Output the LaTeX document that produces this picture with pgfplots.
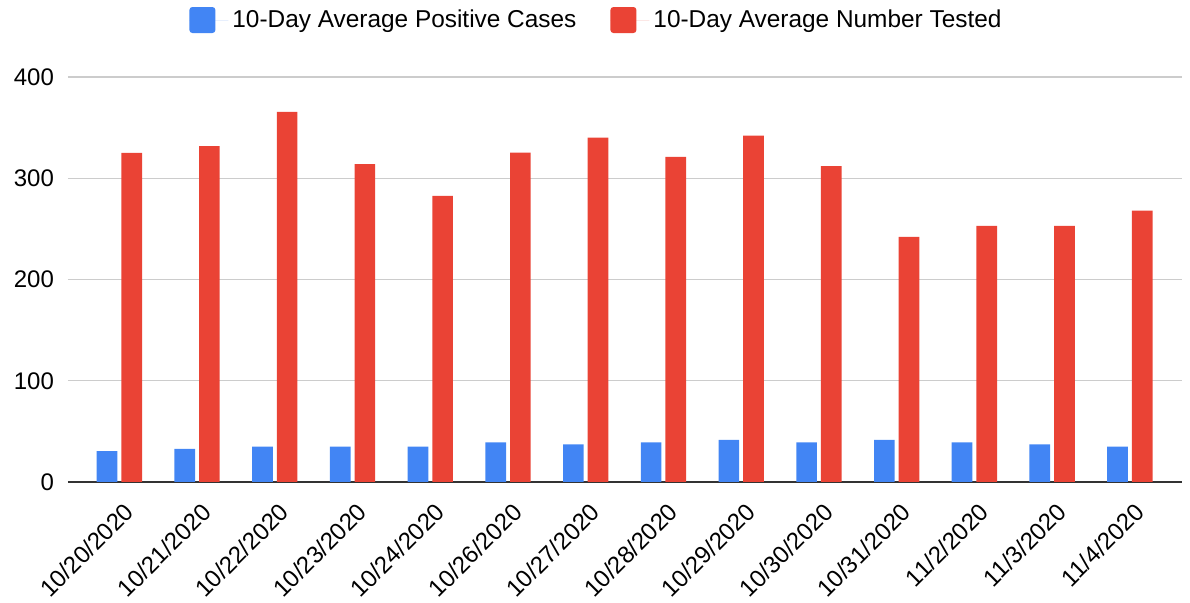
\documentclass[border=0pt]{standalone}
\usepackage{fontspec}
\setmainfont{Liberation Sans}
\usepackage{pgfplots}
\pgfplotsset{compat=1.18}
\definecolor{gblue}{HTML}{4285F4}
\definecolor{gred}{HTML}{EA4335}
\definecolor{ggrid}{HTML}{CCCCCC}
\definecolor{gaxis}{HTML}{333333}
\begin{document}
\begin{tikzpicture}
\begin{axis}[
  at={(0,0)}, anchor=south west,
  scale only axis,
  width=557pt, height=202.5pt,
  ybar=2pt, bar width=10.35pt,
  xmin=-0.66, xmax=13.67,
  ymin=0, ymax=400,
  ytick={0,100,200,300,400},
  extra y ticks={0},
  extra y tick labels={},
  extra y tick style={grid style={draw=gaxis, line width=0.9pt}},
  ymajorgrids,
  grid style={draw=ggrid, line width=0.6pt},
  axis line style={draw=none},
  major tick length=0pt,
  xtick={0,...,13},
  xticklabels={10/20/2020,10/21/2020,10/22/2020,10/23/2020,10/24/2020,10/26/2020,10/27/2020,10/28/2020,10/29/2020,10/30/2020,10/31/2020,11/2/2020,11/3/2020,11/4/2020},
  xticklabel style={rotate=45, anchor=east, font=\fontsize{12}{14}\selectfont, xshift=-2.2pt, yshift=-12.5pt},
  yticklabel style={font=\fontsize{12}{14}\selectfont, xshift=-3.5pt},
  /pgf/number format/assume math mode=true,
  legend columns=2,
  legend style={draw=none, at={(0.4753,1.1407)}, anchor=center,
    font=\fontsize{12.2}{14}\selectfont,
    /tikz/every even column/.append style={column sep=15pt}},
  legend image code/.code={\fill[#1, rounded corners=1.5pt] (0pt,-6.5pt) rectangle (13pt,6.5pt); \path (0pt,0pt) -- (19.5pt,0pt);},
]
\addplot[fill=gblue, draw=none] coordinates {
(0,30.6) (1,32.6) (2,34.9) (3,34.9) (4,34.9) (5,39.2) (6,37.2) (7,39.2) (8,41.5) (9,39.2) (10,41.5) (11,39.2) (12,37.2) (13,34.9)};
\addplot[fill=gred, draw=none] coordinates {
(0,325) (1,331.7) (2,365.5) (3,314) (4,282.6) (5,325.3) (6,340) (7,321) (8,342) (9,312) (10,242) (11,253) (12,253) (13,268)};
\legend{10-Day Average Positive Cases, 10-Day Average Number Tested}
\end{axis}
\pgfresetboundingbox
\path[use as bounding box] (-34pt,-60.5pt) rectangle (561pt,241pt);
\end{tikzpicture}
\end{document}
